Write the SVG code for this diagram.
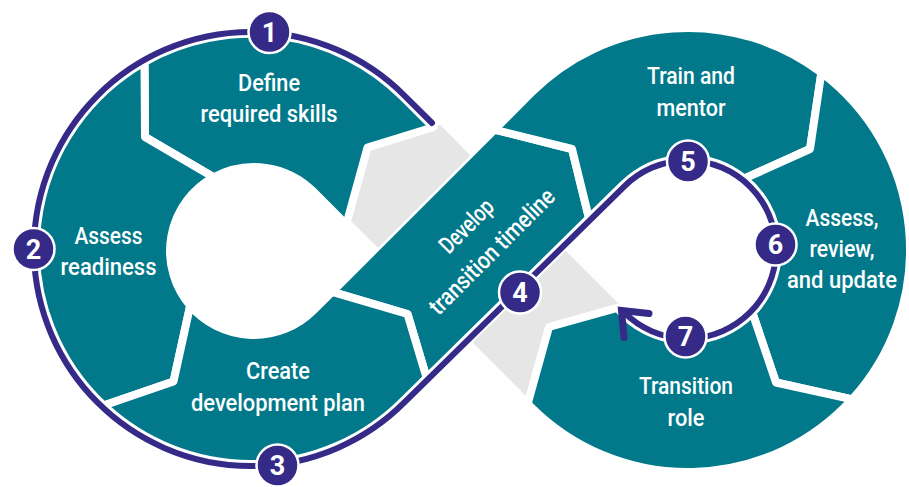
<svg xmlns="http://www.w3.org/2000/svg" width="909" height="487" viewBox="0 0 909 487">
  <style>
    .seg { fill: #01798a; stroke: #ffffff; stroke-width: 8; stroke-linejoin: round; }
    .cross { fill: #e5e6e5; }
    .lbl { font-family: Roboto, "Liberation Sans", sans-serif; font-size: 24px; font-weight: 500; fill: #ffffff; text-anchor: middle; }
    .flow-halo { fill: none; stroke: #ffffff; stroke-width: 10; stroke-linecap: round; stroke-linejoin: round; }
    .flow { fill: none; stroke: #352a87; stroke-width: 6; stroke-linecap: round; stroke-linejoin: round; }
    .head { fill: none; stroke: #352a87; stroke-width: 7; stroke-linecap: round; stroke-linejoin: miter; }
    .badge circle { fill: #352a87; stroke: #ffffff; stroke-width: 2.5; }
    .badge text { font-family: Roboto, "Liberation Sans", sans-serif; font-size: 27px; font-weight: 700; fill: #ffffff; text-anchor: middle; }
  </style>

  <!-- diagonal band drawn first so the grey crossing pieces can sit tight against it -->
  <g id="develop-timeline">
    <path class="seg" d="M332.1,291.9 L407.5,314 L426.6,377.9 L589,218.2 L572,149 L494.4,129.6 Z"/>
    <g transform="translate(479.6,239.2) rotate(-45)">
      <text class="lbl" x="0" y="-10.5" textLength="66" lengthAdjust="spacingAndGlyphs">Develop</text>
      <text class="lbl" x="0" y="25.5" textLength="167" lengthAdjust="spacingAndGlyphs">transition timeline</text>
    </g>
  </g>

  <!-- the band passing underneath at the crossing -->
  <g id="crossing">
    <polygon class="cross" points="367.5,147.5 440.1,125.1 470.5,155.5 378,248 348.1,218.1"/>
    <polygon class="cross" points="564,249 621.7,306.7 549,327 529,399 471.5,341.5"/>
  </g>

  <g id="define-skills">
    <path class="seg" d="M144.5,62 A215,215 0 0 1 403,97 L433.2,127.2 L367.5,147.5 L346.3,224.5 L313.4,191.6 A84,84 0 0 0 213.7,177.3 L145,137 Z"/>
    <text class="lbl" x="269" y="91" textLength="62" lengthAdjust="spacingAndGlyphs">Define</text>
    <text class="lbl" x="269" y="122" textLength="137" lengthAdjust="spacingAndGlyphs">required skills</text>
  </g>

  <g id="assess-readiness">
    <path class="seg" d="M144.5,62 A215,215 0 0 0 103.6,405.5 L173.5,381.5 L190.2,305.6 A84,84 0 0 1 213.7,177.3 L145,137 Z"/>
    <text class="lbl" x="108.5" y="244" textLength="68" lengthAdjust="spacingAndGlyphs">Assess</text>
    <text class="lbl" x="108.5" y="275" textLength="96" lengthAdjust="spacingAndGlyphs">readiness</text>
  </g>

  <g id="create-plan">
    <path class="seg" d="M103.6,405.5 A215,215 0 0 0 403,401 L426.6,377.9 L407.5,314 L332.1,291.9 L313.4,310.4 A84,84 0 0 1 190.2,305.6 L173.5,381.5 Z"/>
    <text class="lbl" x="278" y="379" textLength="64" lengthAdjust="spacingAndGlyphs">Create</text>
    <text class="lbl" x="278" y="411" textLength="174" lengthAdjust="spacingAndGlyphs">development plan</text>
  </g>

  <g id="train-mentor">
    <path class="seg" d="M494.4,129.6 L531,93 A222,222 0 0 1 821.4,72.5 L810,149 L744.2,178.7 A91,91 0 0 0 622.7,185.2 L589,218.2 L572,149 Z"/>
    <text class="lbl" x="691" y="83.5" textLength="88" lengthAdjust="spacingAndGlyphs">Train and</text>
    <text class="lbl" x="691" y="115.5" textLength="69" lengthAdjust="spacingAndGlyphs">mentor</text>
  </g>

  <g id="assess-review-update">
    <path class="seg" d="M821.4,72.5 A222,222 0 0 1 852.3,399.3 L776,382.5 L752.4,312.8 A91,91 0 0 0 744.2,178.7 L810,149 Z"/>
    <text class="lbl" x="842" y="225.5" textLength="73" lengthAdjust="spacingAndGlyphs">Assess,</text>
    <text class="lbl" x="842" y="256.5" textLength="65" lengthAdjust="spacingAndGlyphs">review,</text>
    <text class="lbl" x="842" y="288" textLength="110" lengthAdjust="spacingAndGlyphs">and update</text>
  </g>

  <g id="transition-role">
    <path class="seg" d="M852.3,399.3 A222,222 0 0 1 531,407 L527.7,403.6 L549,327 L617.2,307.9 A91,91 0 0 0 752.4,312.8 L776,382.5 Z"/>
    <text class="lbl" x="686" y="394" textLength="94" lengthAdjust="spacingAndGlyphs">Transition</text>
    <text class="lbl" x="686" y="426" textLength="37" lengthAdjust="spacingAndGlyphs">role</text>
  </g>

  <!-- process path: outer left loop, diagonal, inner right loop, arrowhead -->
  <g id="connectors">
    <path class="flow-halo" d="M432,123 L404.4,95.6 A217,217 0 1 0 404.4,402.4 L624.1,186.6 A89,89 0 1 1 624.1,312.4"/>
    <path class="flow" d="M432,123 L404.4,95.6 A217,217 0 1 0 404.4,402.4 L624.1,186.6 A89,89 0 1 1 624.1,312.4"/>
    <path class="head" d="M649,313.5 L621.5,310.5 L624,337.5"/>
  </g>

  <g id="step-1" class="badge"><circle cx="269.5" cy="32" r="21"/><text x="269.5" y="41.5">1</text></g>
  <g id="step-2" class="badge"><circle cx="33.5" cy="249" r="21"/><text x="33.5" y="258.5">2</text></g>
  <g id="step-3" class="badge"><circle cx="277.5" cy="465.5" r="21"/><text x="277.5" y="475">3</text></g>
  <g id="step-4" class="badge"><circle cx="520" cy="292.5" r="21"/><text x="520" y="302">4</text></g>
  <g id="step-5" class="badge"><circle cx="688" cy="161.5" r="21"/><text x="688" y="171">5</text></g>
  <g id="step-6" class="badge"><circle cx="775.5" cy="244.5" r="21"/><text x="775.5" y="254">6</text></g>
  <g id="step-7" class="badge"><circle cx="685.5" cy="336.5" r="21"/><text x="685.5" y="346">7</text></g>
</svg>
